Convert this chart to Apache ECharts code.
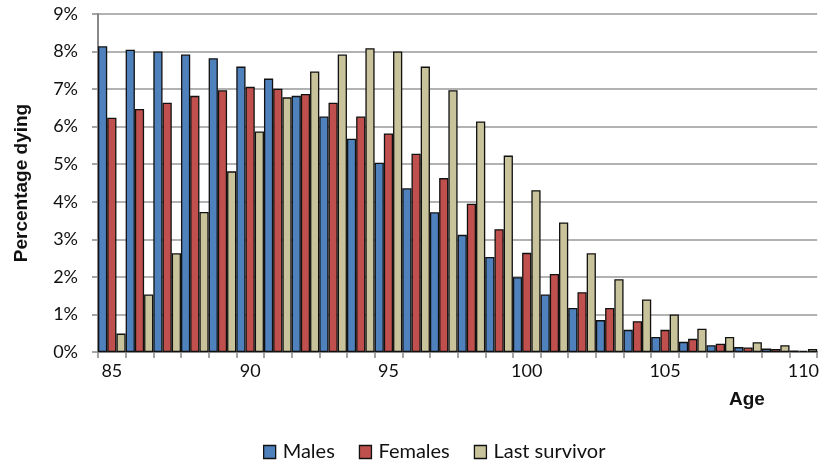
<!DOCTYPE html>
<html>
<head>
<meta charset="utf-8">
<script src="https://cdn.jsdelivr.net/npm/echarts@6/dist/echarts.min.js"></script>
<style>
html,body{margin:0;padding:0;background:#fff;}
#chart{width:822px;height:462px;}
</style>
</head>
<body>
<div id="chart"></div>
<script>
const ages = ['85','86','87','88','89','90','91','92','93','94','95','96','97','98','99','100','101','102','103','104','105','106','107','108','109','110'];
const males = [8.14,8.05,8.00,7.92,7.82,7.60,7.28,6.82,6.27,5.68,5.04,4.36,3.72,3.12,2.53,1.99,1.53,1.17,0.85,0.59,0.40,0.27,0.18,0.13,0.09,0.04];
const females = [6.24,6.47,6.64,6.82,6.97,7.06,7.01,6.87,6.64,6.27,5.82,5.28,4.63,3.95,3.27,2.64,2.08,1.59,1.17,0.82,0.59,0.35,0.22,0.12,0.08,0.03];
const lastSurvivor = [0.49,1.53,2.63,3.73,4.81,5.87,6.78,7.47,7.92,8.09,8.00,7.60,6.97,6.14,5.23,4.31,3.45,2.63,1.94,1.40,1.00,0.62,0.40,0.26,0.18,0.08];

const FONT = 'Lato, "Open Sans", sans-serif';
const chart = echarts.init(document.getElementById('chart'));
const barBorder = {borderColor:'#111', borderWidth:1.3};
chart.setOption({
  animation:false,
  grid:{left:98, right:4, top:14, bottom:110, containLabel:false},
  legend:{
    top:437, left:258,
    icon:'rect', itemWidth:12, itemHeight:13, itemGap:24,
    textStyle:{fontFamily:FONT, fontSize:20, color:'#111', padding:[0,0,0,2]},
    itemStyle:{borderColor:'#111', borderWidth:1.3},
    data:['Males','Females','Last survivor']
  },
  xAxis:{
    type:'category', data:ages, boundaryGap:true,
    axisLine:{lineStyle:{color:'#888', width:2}},
    axisTick:{show:true, interval:0, length:6, lineStyle:{color:'#888', width:1.5}},
    axisLabel:{interval:4, fontFamily:FONT, fontSize:18, color:'#111', margin:10},
    splitLine:{show:false}
  },
  yAxis:{
    type:'value', min:0, max:9, interval:1,
    name:'Percentage dying', nameLocation:'middle', nameGap:67, nameRotate:90,
    nameTextStyle:{fontFamily:'"Liberation Sans", Arial, sans-serif', fontWeight:'bold', fontSize:19, color:'#111'},
    axisLine:{show:true, lineStyle:{color:'#888', width:2}},
    axisTick:{show:true, length:6, lineStyle:{color:'#888', width:1.5}},
    axisLabel:{formatter:'{value}%', fontFamily:FONT, fontSize:18, color:'#111', margin:20},
    splitLine:{show:true, lineStyle:{color:'#999', width:1.5}}
  },
  graphic:[{
    type:'text', left:729, top:390,
    style:{text:'Age', font:'bold 19px "Liberation Sans", Arial, sans-serif', fill:'#111'}
  }],
  series:[
    {name:'Males', type:'bar', data:males, barGap:'0%', barCategoryGap:'0%',
     itemStyle:Object.assign({color:'#4F81BD'}, barBorder)},
    {name:'Females', type:'bar', data:females, barGap:'0%', barCategoryGap:'0%',
     itemStyle:Object.assign({color:'#C0504D'}, barBorder)},
    {name:'Last survivor', type:'bar', data:lastSurvivor, barGap:'0%', barCategoryGap:'0%',
     itemStyle:Object.assign({color:'#C9C39B'}, barBorder)}
  ]
});
</script>
</body>
</html>
